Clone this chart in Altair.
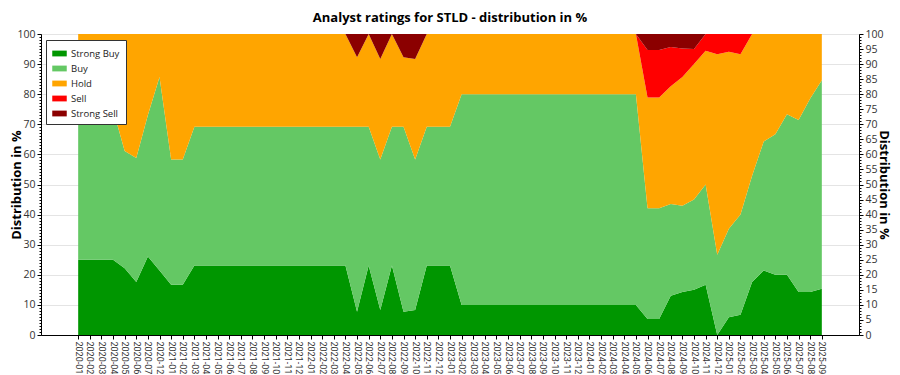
import altair as alt
import pandas as pd

months = [
    "2020-01", "2020-02", "2020-03", "2020-04", "2020-05", "2020-06", "2020-07", "2020-12",
    "2021-01", "2021-02", "2021-03", "2021-04", "2021-05", "2021-06", "2021-07", "2021-08",
    "2021-09", "2021-10", "2021-11", "2021-12",
    "2022-01", "2022-02", "2022-03", "2022-04", "2022-05", "2022-06", "2022-07", "2022-08",
    "2022-09", "2022-10", "2022-11", "2022-12",
    "2023-01", "2023-02", "2023-03", "2023-04", "2023-05", "2023-06", "2023-07", "2023-08",
    "2023-09", "2023-10", "2023-11", "2023-12",
    "2024-01", "2024-02", "2024-03", "2024-04", "2024-05", "2024-06", "2024-07", "2024-08",
    "2024-09", "2024-10", "2024-11", "2024-12",
    "2025-01", "2025-02", "2025-03", "2025-04", "2025-05", "2025-06", "2025-07", "2025-08",
    "2025-09",
]

strong_buy = [
    25.0, 25.0, 25.0, 25.0, 22.2, 17.6, 26.1, 21.4,
    16.7, 16.7, 23.1, 23.1, 23.1, 23.1, 23.1, 23.1,
    23.1, 23.1, 23.1, 23.1,
    23.1, 23.1, 23.1, 23.1, 7.7, 23.1, 8.3, 23.1,
    7.7, 8.3, 23.1, 23.1,
    23.1, 10.0, 10.0, 10.0, 10.0, 10.0, 10.0, 10.0,
    10.0, 10.0, 10.0, 10.0,
    10.0, 10.0, 10.0, 10.0, 10.0, 5.3, 5.3, 13.0,
    14.3, 15.0, 16.7, 0.0,
    5.9, 6.7, 17.6, 21.4, 20.0, 20.0, 14.3, 14.3,
    15.4,
]
buy = [
    50.0, 50.0, 50.0, 50.0, 38.9, 41.2, 47.0, 64.3,
    41.6, 41.6, 46.1, 46.1, 46.1, 46.1, 46.1, 46.1,
    46.1, 46.1, 46.1, 46.1,
    46.1, 46.1, 46.1, 46.1, 61.5, 46.1, 50.0, 46.1,
    61.5, 50.0, 46.1, 46.1,
    46.1, 70.0, 70.0, 70.0, 70.0, 70.0, 70.0, 70.0,
    70.0, 70.0, 70.0, 70.0,
    70.0, 70.0, 70.0, 70.0, 70.0, 36.8, 36.8, 30.5,
    28.6, 30.0, 33.3, 26.7,
    29.4, 33.3, 35.3, 42.9, 46.7, 53.3, 57.1, 64.3,
    69.2,
]
hold = [
    25.0, 25.0, 25.0, 25.0, 38.9, 41.2, 26.9, 14.3,
    41.7, 41.7, 30.8, 30.8, 30.8, 30.8, 30.8, 30.8,
    30.8, 30.8, 30.8, 30.8,
    30.8, 30.8, 30.8, 30.8, 23.1, 30.8, 33.4, 30.8,
    23.1, 33.4, 30.8, 30.8,
    30.8, 20.0, 20.0, 20.0, 20.0, 20.0, 20.0, 20.0,
    20.0, 20.0, 20.0, 20.0,
    20.0, 20.0, 20.0, 20.0, 20.0, 36.8, 36.8, 39.1,
    42.8, 45.0, 44.4, 66.6,
    58.8, 53.3, 47.1, 35.7, 33.3, 26.7, 28.6, 21.4,
    15.4,
]
sell = [
    0, 0, 0, 0, 0, 0, 0, 0,
    0, 0, 0, 0, 0, 0, 0, 0,
    0, 0, 0, 0,
    0, 0, 0, 0, 0, 0, 0, 0,
    0, 0, 0, 0,
    0, 0, 0, 0, 0, 0, 0, 0,
    0, 0, 0, 0,
    0, 0, 0, 0, 0, 15.8, 15.8, 13.1,
    9.5, 5.0, 5.6, 6.7,
    5.9, 6.7, 0, 0, 0, 0, 0, 0,
    0,
]
strong_sell = [
    0, 0, 0, 0, 0, 0, 0, 0,
    0, 0, 0, 0, 0, 0, 0, 0,
    0, 0, 0, 0,
    0, 0, 0, 0, 7.7, 0, 8.3, 0,
    7.7, 8.3, 0, 0,
    0, 0, 0, 0, 0, 0, 0, 0,
    0, 0, 0, 0,
    0, 0, 0, 0, 0, 5.3, 5.3, 4.3,
    4.8, 5.0, 0, 0,
    0, 0, 0, 0, 0, 0, 0, 0,
    0,
]

series_names = ["Strong Buy", "Buy", "Hold", "Sell", "Strong Sell"]
series_colors = ["#009600", "#64c864", "#ffa500", "#ff0000", "#8b0000"]
series_values = [strong_buy, buy, hold, sell, strong_sell]

rows = []
for rank, (name, vals) in enumerate(zip(series_names, series_values)):
    for idx, (m, v) in enumerate(zip(months, vals)):
        rows.append({"idx": idx, "month": m, "rating": name, "value": v, "rank": rank})
df = pd.DataFrame(rows)

FONT = "Open Sans"
SMALL = "Roboto"
W, H = 818, 301
PAD = 3.2
month_js = "[" + ",".join("'" + m + "'" for m in months) + "]"

areas = alt.Chart(df).mark_area(interpolate="linear", opacity=1).encode(
    x=alt.X(
        "idx:Q",
        scale=alt.Scale(domain=[-PAD, len(months) - 1 + PAD], nice=False, zero=False),
        axis=alt.Axis(
            title=None, values=list(range(len(months))),
            labelExpr=month_js + "[datum.value]",
            labelAngle=90, labelFontSize=9, labelFont=SMALL,
            labelColor="#333333", tickColor="#000000", domainColor="#000000",
            tickSize=4, labelPadding=2, grid=False, labelOverlap=False,
            labelFlush=False, labelBound=False,
        ),
    ),
    y=alt.Y(
        "value:Q",
        stack="zero",
        scale=alt.Scale(domain=[0, 100], nice=False),
        axis=alt.Axis(
            values=list(range(0, 101)),
            labelExpr="datum.value % 10 === 0 ? datum.label : ''",
            tickSize={"condition": {"test": "datum.value % 10 === 0", "value": 4}, "value": 2},
            gridOpacity={"condition": {"test": "datum.value % 10 === 0", "value": 1}, "value": 0},
            gridColor="#e4e4e4",
            domainColor="#000000", tickColor="#000000",
            labelFontSize=10.5, labelFont=FONT, labelColor="#333333",
            labelOverlap=False, labelPadding=2,
            title="Distribution in %", titleFontSize=13, titleFont=FONT,
            titleFontWeight="bold", titleColor="#000000",
            titleX=-25, titleY=H / 2, titleBaseline="middle", titleAngle=270,
        ),
    ),
    color=alt.Color(
        "rating:N",
        sort=series_names,
        scale=alt.Scale(domain=series_names, range=series_colors),
        legend=alt.Legend(
            title=None, orient="none", legendX=5, legendY=6,
            symbolType="M-1,-0.4H1V0.4H-1Z", symbolSize=210, symbolStrokeWidth=0,
            labelFontSize=9.5, labelFont=FONT, labelColor="#222222",
            strokeColor="#333333", fillColor="#ffffff", padding=6,
            rowPadding=3, labelOffset=4,
        ),
    ),
    order=alt.Order("rank:Q", sort="ascending"),
)

right = alt.Chart(pd.DataFrame({"v": [0, 100]})).mark_point(opacity=0).encode(
    y=alt.Y(
        "v:Q",
        scale=alt.Scale(domain=[0, 100], nice=False),
        axis=alt.Axis(
            orient="right",
            values=list(range(0, 101)),
            labelExpr="datum.value % 5 === 0 ? datum.label : ''",
            tickSize={"condition": {"test": "datum.value % 5 === 0", "value": 4}, "value": 2},
            grid=False,
            domainColor="#000000", tickColor="#000000",
            labelFontSize=10.5, labelFont=FONT, labelColor="#333333",
            labelOverlap=False, labelPadding=2,
            title="Distribution in %", titleFontSize=13, titleFont=FONT,
            titleFontWeight="bold", titleColor="#000000",
            titleX=24, titleY=H / 2, titleBaseline="middle", titleAngle=90,
        ),
    )
)

chart = (
    alt.layer(areas, right)
    .resolve_scale(y="independent")
    .properties(
        width=W,
        height=H,
        autosize=alt.AutoSizeParams(type="none"),
        padding={"left": 33, "top": 26, "right": 33, "bottom": 40},
        title=alt.TitleParams(
            text="Analyst ratings for STLD - distribution in %",
            fontSize=13, fontWeight="bold", font=FONT, color="#000000",
            anchor="middle", offset=4,
        ),
    )
    .configure_view(stroke="#888888", strokeWidth=1)
)

chart.save("out.html", embed_options={"renderer": "svg", "actions": False})
